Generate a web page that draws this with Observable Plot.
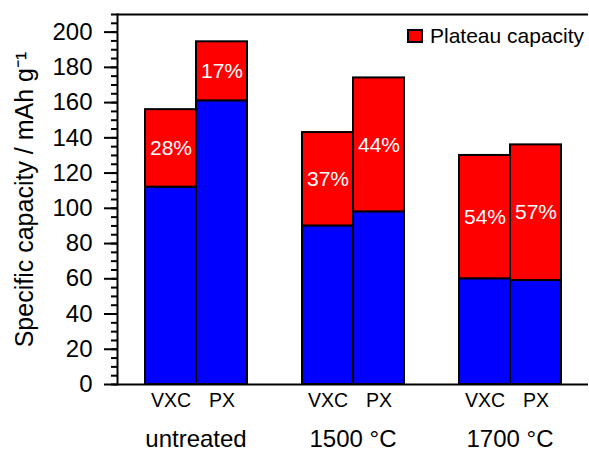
<!DOCTYPE html>
<html>
<head>
<meta charset="utf-8">
<script src="https://cdn.jsdelivr.net/npm/d3@7"></script>
<script src="https://cdn.jsdelivr.net/npm/@observablehq/plot@0.6"></script>
<style>
  html, body { margin: 0; padding: 0; background: #fff; }
  #wrap { position: relative; width: 589px; height: 452px; font-family: "Liberation Sans", Arial, sans-serif; }
  #legend { position: absolute; left: 407px; top: 24px; display: flex; align-items: center; font-size: 21px; color: #000; white-space: nowrap; }
  #legend .sw { width: 16px; height: 14px; box-sizing: border-box; border: 2px solid #000; background: #ff0000; margin-right: 7px; }
</style>
</head>
<body>
<div id="wrap"></div>
<script>
// ---- data ----
const groups = ["untreated", "1500 °C", "1700 °C"];
const samples = ["VXC", "PX"];
const baseCapacity = [112, 161, 90, 98, 60, 59];          // blue (lower) part
const totalCapacity = [156, 194.5, 143, 174, 130, 136];   // top of red (plateau) part
const plateauLabels = ["28%", "17%", "37%", "44%", "54%", "57%"];
const yDomain = [0, 210];
const yMajorTicks = [0, 20, 40, 60, 80, 100, 120, 140, 160, 180, 200];
const yMinorTicks = d3.range(0, 211, 5);
const yLabel = "Specific capacity / mAh g\u207B\u00B9";
const legendLabel = "Plateau capacity";

const rows = baseCapacity.map((b, i) => ({
  group: groups[Math.floor(i / 2)],
  sample: samples[i % 2],
  base: b,
  total: totalCapacity[i],
  label: plateauLabels[i]
}));

const chart = Plot.plot({
  width: 589,
  height: 452,
  marginLeft: 116,
  marginRight: 0,
  marginTop: 14,
  marginBottom: 68,
  style: { fontFamily: "Liberation Sans, Arial, sans-serif", color: "#000", background: "#fff" },
  fx: { domain: groups, padding: 0 },
  x: { domain: samples, paddingInner: 0, paddingOuter: 0.53 },
  y: { domain: yDomain },
  marks: [
    Plot.barY(rows, { fx: "group", x: "sample", y1: 0, y2: "base", fill: "#0000ff", stroke: "#000", strokeWidth: 2, inset: 0 }),
    Plot.barY(rows, { fx: "group", x: "sample", y1: "base", y2: "total", fill: "#ff0000", stroke: "#000", strokeWidth: 2, inset: 0 }),
    Plot.text(rows, { fx: "group", x: "sample", y: d => (d.base + d.total) / 2, text: "label", fill: "#fff", fontSize: 21 }),
    Plot.ruleY([yDomain[0]], { stroke: "#000", strokeWidth: 2 }),
    Plot.ruleY([yDomain[1]], { stroke: "#000", strokeWidth: 2 }),
    Plot.frame({ anchor: "left", facetAnchor: "left", stroke: "#000", strokeWidth: 2 }),
    Plot.axisY({ ticks: yMinorTicks, tickSize: 6, tickFormat: () => "", strokeWidth: 2, label: null }),
    Plot.axisY({ ticks: yMajorTicks, tickSize: 13, tickPadding: 12, fontSize: 24, strokeWidth: 2, label: null }),
    Plot.axisY({ ticks: [], label: yLabel, labelArrow: "none", labelAnchor: "center", labelOffset: 102, fontSize: 25 }),
    Plot.axisX({ tickSize: 0, tickPadding: 9, fontSize: 19.5, label: null }),
    Plot.axisFx({ anchor: "bottom", tickSize: 0, tickPadding: 45, fontSize: 24, label: null })
  ]
});

const wrap = document.getElementById("wrap");
wrap.appendChild(chart);
const legend = document.createElement("div");
legend.id = "legend";
legend.innerHTML = '<div class="sw"></div><span></span>';
legend.querySelector("span").textContent = legendLabel;
wrap.appendChild(legend);
</script>
</body>
</html>
